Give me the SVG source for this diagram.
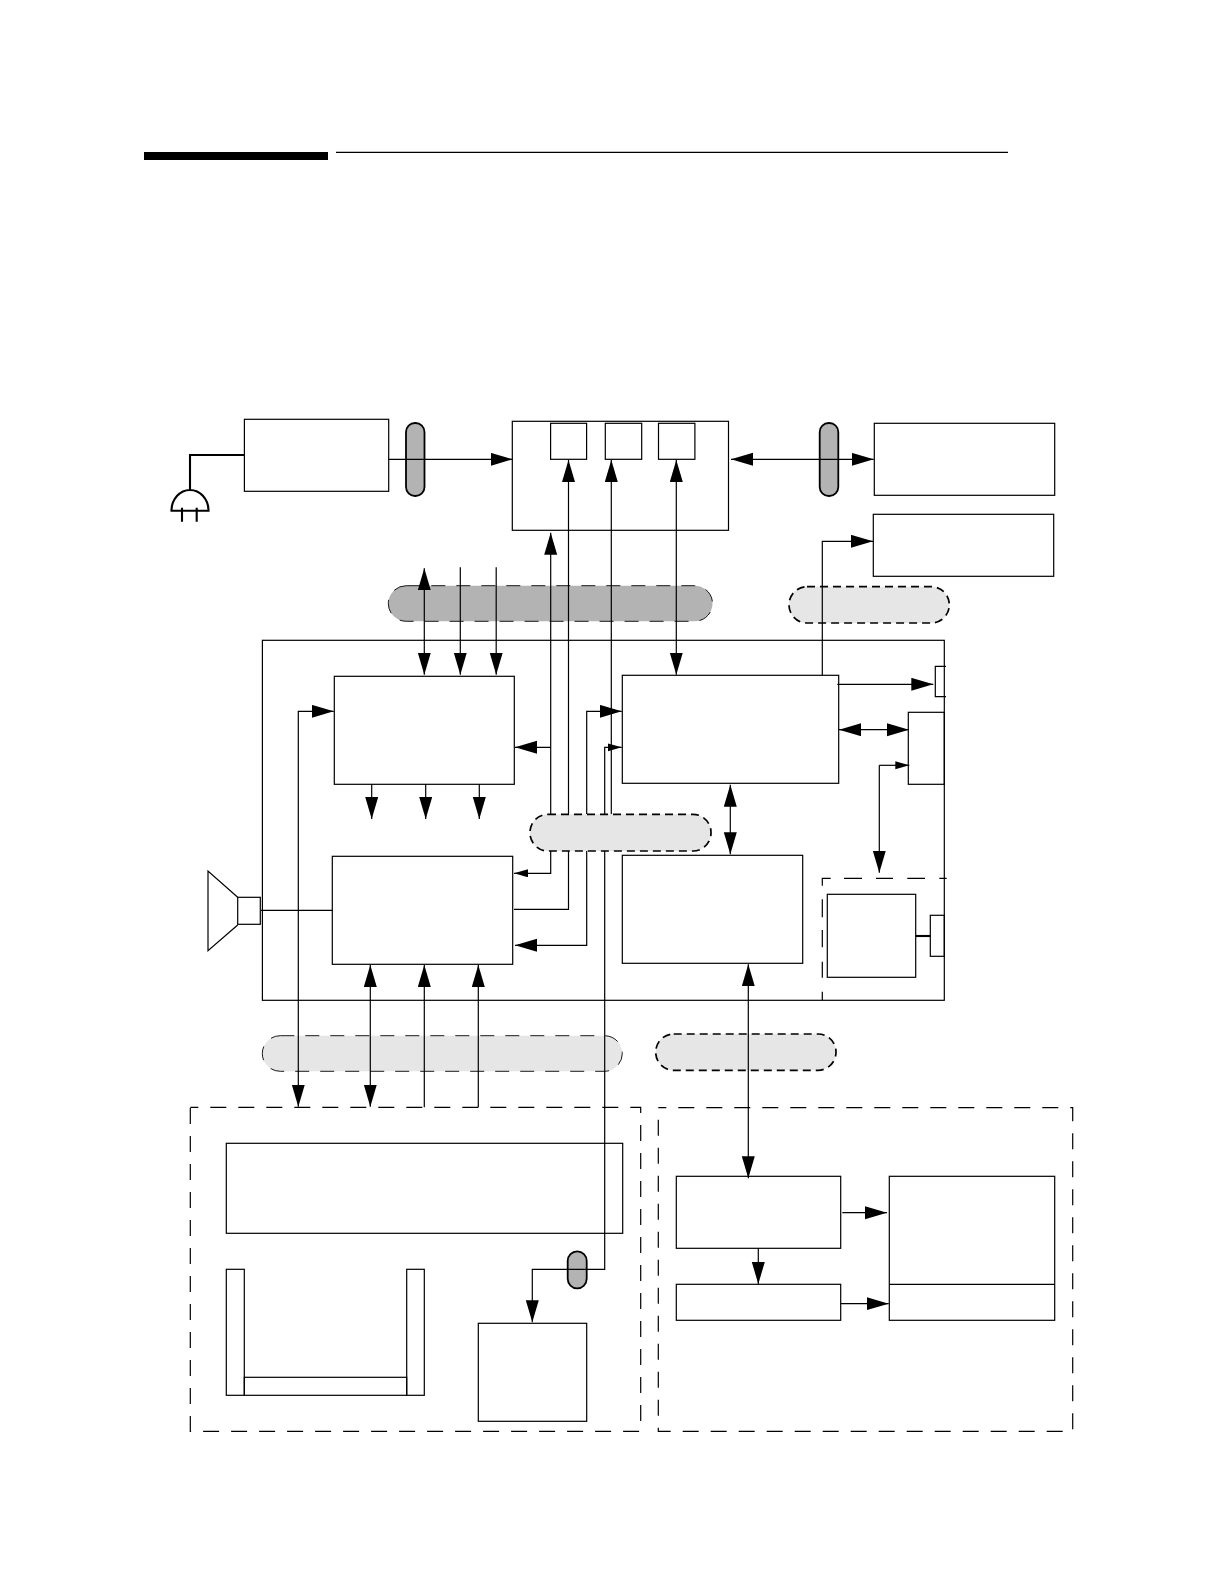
<svg xmlns="http://www.w3.org/2000/svg" width="1224" height="1584" viewBox="0 0 1224 1584">
<style>
rect,path,polygon,line{stroke:#000;stroke-width:1.2;fill:none}
.thick{stroke-width:2.1}
.pillD{fill:#b3b3b3;stroke-width:1.8}
.busD{fill:#b3b3b3;stroke-width:.9;stroke-dasharray:14 11}
.busL{fill:#e6e6e6;stroke-width:1.7;stroke-dasharray:8 5}
.busT{fill:#e6e6e6;stroke-width:.9;stroke-dasharray:14 11}
.dash{stroke-dasharray:16 12;stroke-dashoffset:8}
.bar{fill:#000;stroke:none}
.e{marker-end:url(#a)}
.b{marker-start:url(#a);marker-end:url(#a)}
.s{marker-end:url(#sm)}
</style>
<defs>
<marker id="a" markerUnits="userSpaceOnUse" markerWidth="23" markerHeight="14" refX="22" refY="6.5" orient="auto-start-reverse"><path d="M0 0L22 6.5L0 13Z" style="fill:#000;stroke:none"/></marker>
<marker id="sm" markerUnits="userSpaceOnUse" markerWidth="16" markerHeight="10" refX="14" refY="4" orient="auto-start-reverse"><path d="M0 0L14 4L0 8Z" style="fill:#000;stroke:none"/></marker>
</defs>
<rect width="1224" height="1584" style="fill:#fff;stroke:none"/>
<g id="header"><rect class="bar" x="144" y="152" width="184" height="8"/><line x1="336" y1="152.4" x2="1008" y2="152.4"/></g>
<g id="bus-top"><rect class="busD" x="388.3" y="585.7" width="324.2" height="35.6" rx="18"/></g>
<g id="bus-top-right"><rect class="busL" x="789" y="586.7" width="160.3" height="36.3" rx="18"/></g>
<g id="bus-lower-left"><rect class="busT" x="262.3" y="1035.7" width="360" height="35.6" rx="18"/></g>
<g id="bus-lower-right"><rect class="busL" x="655.7" y="1034" width="180.3" height="36.3" rx="18"/></g>
<g id="cable-left"><rect class="pillD" x="406" y="423" width="18.5" height="73" rx="9"/></g>
<g id="cable-right"><rect class="pillD" x="819.7" y="423" width="18.6" height="73" rx="9"/></g>
<g id="cable-bottom"><rect class="pillD" x="567.7" y="1251.3" width="19" height="37" rx="9.5"/></g>
<g id="connectors">
<path class="e" d="M388.7 459.3H512.7"/>
<path class="b" d="M731 459.3H873.7"/>
<path class="e" d="M822.3 675.3V541.3H873"/>
<path class="b" d="M424.3 568.3V674.7"/>
<path class="e" d="M460.3 567.3V674.7"/>
<path class="e" d="M496.2 567.3V674.7"/>
<path class="e" d="M514 909.3H568.5V460"/>
<path class="e" d="M611.3 814.3V460"/>
<path class="b" d="M676.3 460V674.7"/>
<path class="e" d="M550.7 814V532.7"/>
<path class="e" d="M550.7 747.3H515"/>
<path class="s" d="M550.7 851V873.3H514"/>
<path class="e" d="M586.7 851V945.3H515"/>
<path class="e" d="M586.7 814V711.3H621.7"/>
<path class="s" d="M604.7 814V747.3H621.7"/>
<path class="e" d="M604.7 851V1269.3H532.3V1322.3"/>
<path class="b" d="M298.3 1106.7V711.3H333.7"/>
<path class="e" d="M371.7 784V819"/>
<path class="e" d="M425.7 784V819"/>
<path class="e" d="M479.3 784V819"/>
<path class="b" d="M370.3 965V1106.7"/>
<path class="e" d="M424.3 1107.3V965"/>
<path class="e" d="M478.3 1107.3V965"/>
<path d="M261 910.3H332.3"/>
<path class="e" d="M837.3 684.3H933.3"/>
<path class="b" d="M839 729.7H909"/>
<path class="b" d="M730.3 784.7V854.3"/>
<path class="s" d="M879.3 765.3H909.3"/>
<path class="e" d="M879.3 765.3V872.7"/>
<path class="b" d="M748.3 964.3V1178.3"/>
<path class="e" d="M842.3 1212.7H887"/>
<path class="e" d="M840.7 1303.7H888.7"/>
<path class="e" d="M758.3 1248.3V1284"/>
</g>
<g id="bus-middle"><rect class="busL" x="530" y="814.3" width="181" height="36.7" rx="18"/></g>
<g id="plug"><path class="thick" d="M244.4 455H190V490M171.5 510.7A18.5 20.7 0 0 1 208.5 510.7ZM182 507.7V521.7M196.7 507.7V521.7"/></g>
<g id="power-supply"><rect x="244.4" y="419.3" width="144.3" height="72"/></g>
<g id="top-unit"><rect x="512.3" y="421.3" width="216.2" height="109"/><rect x="550.6" y="423.3" width="36" height="36"/><rect x="605.3" y="423.3" width="36.4" height="36"/><rect x="658.5" y="423.3" width="36.4" height="36"/></g>
<g id="box-g"><rect x="874.3" y="423.3" width="180.4" height="72"/></g>
<g id="box-f"><rect x="873.3" y="514.3" width="180.4" height="62"/></g>
<g id="main-board"><rect x="262.4" y="640.3" width="681.9" height="360"/></g>
<g id="box-c"><rect x="334.3" y="676.3" width="180" height="108"/></g>
<g id="box-d"><rect x="332.3" y="856.3" width="180.4" height="108"/></g>
<g id="box-e"><rect x="622.3" y="675.3" width="216.4" height="108"/></g>
<g id="box-i"><rect x="622.3" y="855.3" width="180.4" height="108"/></g>
<g id="connector-top"><path d="M946 666.3H935.3V696.7H946"/></g>
<g id="box-h"><rect x="908.3" y="712.3" width="36" height="72"/></g>
<g id="sub-group"><path d="M946.7 878.3H939.3M925 878.3H907.3M893 878.3H876M862 878.3H844M830.7 878.3H822.3V885.7M822.3 899.3V917.3M822.3 930V947.3M822.3 961.7V977.7M822.3 991.7V1000.3"/><rect x="827.3" y="894.3" width="88.4" height="83"/><rect x="930.3" y="915.3" width="14" height="41"/><path class="thick" d="M915.7 936H930.3"/></g>
<g id="speaker"><path d="M237.7 897.3L208 871V950.7L237.7 925"/><rect x="237.7" y="897.3" width="22.6" height="27"/></g>
<g id="left-group"><rect class="dash" x="190.3" y="1107.3" width="450.4" height="324"/></g>
<g id="wide-box"><rect x="226.3" y="1143.3" width="396.4" height="90"/></g>
<g id="u-tray"><rect x="226.3" y="1269.3" width="18" height="126"/><rect x="406.7" y="1269.3" width="17.6" height="126"/><rect x="244.3" y="1377.3" width="162.4" height="18"/></g>
<g id="box-bottom"><rect x="478.3" y="1323.3" width="108.4" height="98"/></g>
<g id="right-group"><rect class="dash" x="658.3" y="1107.7" width="414.4" height="323.6"/></g>
<g id="box-j"><rect x="676.3" y="1176.3" width="164.4" height="72"/></g>
<g id="box-k"><rect x="676.3" y="1284.3" width="164.4" height="36"/></g>
<g id="box-l"><rect x="889.3" y="1176.3" width="165.4" height="144"/><path d="M889.3 1284.3H1054.7"/></g>
</svg>
